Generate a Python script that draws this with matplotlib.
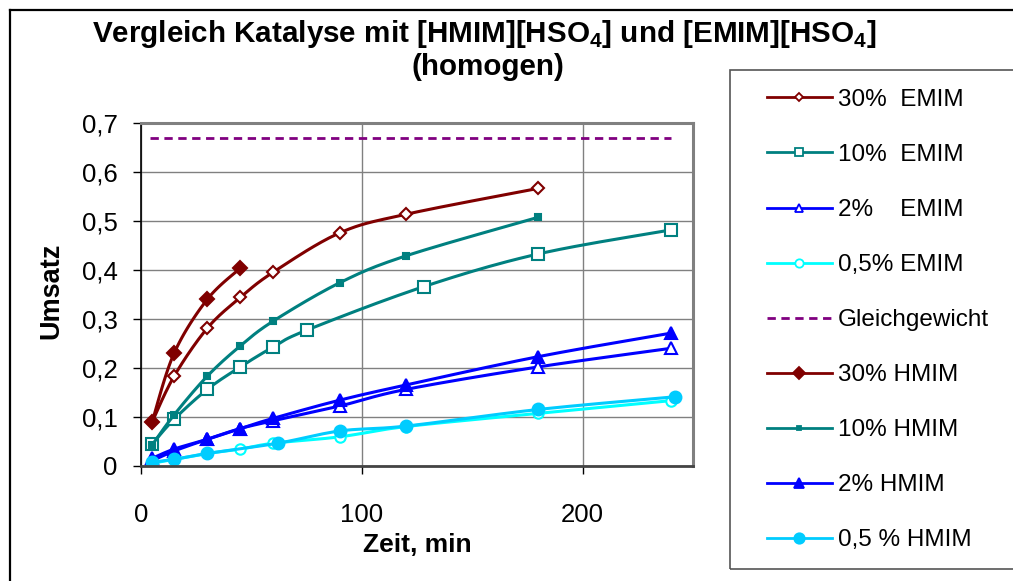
import numpy as np
import matplotlib.pyplot as plt
from matplotlib.patches import Rectangle
from matplotlib.lines import Line2D

plt.rcParams['font.family'] = ['Liberation Sans', 'DejaVu Sans']
plt.rcParams['mathtext.fontset'] = 'custom'
plt.rcParams['mathtext.rm'] = 'Liberation Sans'
plt.rcParams['mathtext.bf'] = 'Liberation Sans:bold'

# data
t_30_emim = [5, 15, 30, 45, 60, 90, 120, 180]
u_30_emim = [0.089, 0.183, 0.281, 0.344, 0.396, 0.476, 0.514, 0.567]
t_10_emim = [5, 15, 30, 45, 60, 75, 128, 180, 240]
u_10_emim = [0.044, 0.095, 0.156, 0.202, 0.243, 0.277, 0.366, 0.433, 0.482]
t_2_emim = [5, 15, 30, 45, 60, 90, 120, 180, 240]
u_2_emim = [0.010, 0.030, 0.054, 0.076, 0.092, 0.122, 0.156, 0.202, 0.240]
t_05_emim = [5, 15, 30, 45, 60, 90, 120, 180, 240]
u_05_emim = [0.005, 0.013, 0.025, 0.034, 0.046, 0.059, 0.080, 0.107, 0.133]

t_30_hmim = [5, 15, 30, 45]
u_30_hmim = [0.089, 0.230, 0.340, 0.404]
t_10_hmim = [5, 15, 30, 45, 60, 90, 120, 180]
u_10_hmim = [0.042, 0.104, 0.183, 0.245, 0.296, 0.374, 0.429, 0.508]
t_2_hmim = [5, 15, 30, 45, 60, 90, 120, 180, 240]
u_2_hmim = [0.015, 0.034, 0.054, 0.076, 0.097, 0.134, 0.165, 0.223, 0.271]
t_05_hmim = [5, 15, 30, 62, 90, 120, 180, 242]
u_05_hmim = [0.007, 0.013, 0.025, 0.046, 0.071, 0.081, 0.115, 0.141]

t_eq = [4, 240]
u_eq = [0.67, 0.67]


def smooth(x, y, n=20):
    # Excel-like smoothed line (Catmull-Rom through the points)
    x = np.asarray(x, float)
    y = np.asarray(y, float)
    if len(x) < 3:
        return x, y
    px = np.concatenate([[x[0]], x, [x[-1]]])
    py = np.concatenate([[y[0]], y, [y[-1]]])
    xs, ys = [], []
    s = np.linspace(0, 1, n)
    for i in range(1, len(px) - 2):
        p0, p1, p2, p3 = px[i - 1], px[i], px[i + 1], px[i + 2]
        q0, q1, q2, q3 = py[i - 1], py[i], py[i + 1], py[i + 2]
        c1x, c1y = p1 + (p2 - p0) / 6, q1 + (q2 - q0) / 6
        c2x, c2y = p2 - (p3 - p1) / 6, q2 - (q3 - q1) / 6
        bx = (1 - s) ** 3 * p1 + 3 * (1 - s) ** 2 * s * c1x + 3 * (1 - s) * s ** 2 * c2x + s ** 3 * p2
        by = (1 - s) ** 3 * q1 + 3 * (1 - s) ** 2 * s * c1y + 3 * (1 - s) * s ** 2 * c2y + s ** 3 * q2
        xs.append(bx)
        ys.append(by)
    return np.concatenate(xs), np.concatenate(ys)


# label, colour, marker, face, size in plot, size in legend
series = [
    (t_30_emim, u_30_emim, '30%  EMIM', '#800000', 'D', 'white', 6.5, 4.5),
    (t_10_emim, u_10_emim, '10%  EMIM', '#008080', 's', 'white', 8, 6),
    (t_2_emim, u_2_emim, '2%    EMIM', '#0000FF', '^', 'white', 8, 6),
    (t_05_emim, u_05_emim, '0,5% EMIM', '#00FFFF', 'o', 'white', 7.5, 6),
    (t_30_hmim, u_30_hmim, '30% HMIM', '#800000', 'D', '#800000', 7, 6),
    (t_10_hmim, u_10_hmim, '10% HMIM', '#008080', 's', '#008080', 4, 3.5),
    (t_2_hmim, u_2_hmim, '2% HMIM', '#0000FF', '^', '#0000FF', 8.5, 7),
    (t_05_hmim, u_05_hmim, '0,5 % HMIM', '#00CCFF', 'o', '#00CCFF', 8.5, 7.5),
]

W, H = 1013, 581
fig = plt.figure(figsize=(W / 100, H / 100), dpi=100)

# outer chart border (right/bottom edges fall outside the picture)
fig.add_artist(Line2D([10 / W, 10 / W], [0, 1 - 10 / H], transform=fig.transFigure,
                      color='black', lw=1.6))
fig.add_artist(Line2D([10 / W, 1], [1 - 10 / H, 1 - 10 / H], transform=fig.transFigure,
                      color='black', lw=1.6))

ax = fig.add_axes([141 / W, 1 - 465.7 / H, 552 / W, 342.4 / H])

handles = {}
for x, y, lab, col, mk, fc, ms, lms in series:
    sx, sy = smooth(x, y)
    ax.plot(sx, sy, color=col, lw=2.2)
    ax.plot(x, y, ls='none', marker=mk, ms=ms, mfc=fc, mec=col, mew=1.5)
    handles[lab] = Line2D([], [], color=col, lw=2, marker=mk, ms=lms,
                          mfc=fc, mec=col, mew=1.3)

ax.plot(t_eq, u_eq, color='#800080', lw=2, ls=(0, (3, 2)))
handles['Gleichgewicht'] = Line2D([], [], color='#800080', lw=2, ls=(0, (3, 2)))

ax.set_xlim(0, 250)
ax.set_ylim(0, 0.7)
ax.set_xticks([0, 100, 200])
ax.set_yticks(np.arange(0, 0.71, 0.1))
ax.set_yticklabels(['0', '0,1', '0,2', '0,3', '0,4', '0,5', '0,6', '0,7'])
ax.tick_params(labelsize=18.5, direction='out', length=6, width=1, color='black')
ax.tick_params(axis='x', pad=21)
ax.tick_params(axis='y', pad=11)
ax.grid(True, color='#808080', lw=1)
ax.set_axisbelow(True)
for side in ['top', 'right']:
    ax.spines[side].set_color('#808080')
    ax.spines[side].set_linewidth(2.2)
ax.spines['left'].set_color('black')
ax.spines['left'].set_linewidth(1.2)
ax.spines['bottom'].set_color('#444444')
ax.spines['bottom'].set_linewidth(2)

ax.set_xlabel('Zeit, min', fontsize=19, fontweight='bold', va='center')
ax.xaxis.set_label_coords(0.5, -(545 - 465.7) / 342.4)
ax.set_ylabel('Umsatz', fontsize=19.5, fontweight='bold', va='center')
ax.yaxis.set_label_coords(-(141 - 51) / 552, (465.7 - 290.5) / 342.4)

fig.text(484 / W, 1 - 41.7 / H,
         'Vergleich Katalyse mit [HMIM][HSO$_\\mathbf{4}$] und [EMIM][HSO$_\\mathbf{4}$]',
         ha='center', va='baseline', fontsize=21.3, fontweight='bold')
fig.text(488 / W, 1 - 75 / H, '(homogen)',
         ha='center', va='baseline', fontsize=21.3, fontweight='bold')

# legend frame runs past the right edge
fig.add_artist(Rectangle((730 / W, 1 - 569 / H), 300 / W, 499 / H, transform=fig.transFigure,
                         fill=False, edgecolor='#555555', lw=1.2, clip_on=False))

order = ['30%  EMIM', '10%  EMIM', '2%    EMIM', '0,5% EMIM', 'Gleichgewicht',
         '30% HMIM', '10% HMIM', '2% HMIM', '0,5 % HMIM']
leg = fig.legend([handles[k] for k in order], order, loc='center left',
                 bbox_to_anchor=(766.7 / W, 1 - 320.2 / H), fontsize=17.5,
                 frameon=False, handlelength=2.67, handletextpad=0.25,
                 labelspacing=1.36, borderpad=0, borderaxespad=0)

fig.savefig('out.png', dpi=100)
